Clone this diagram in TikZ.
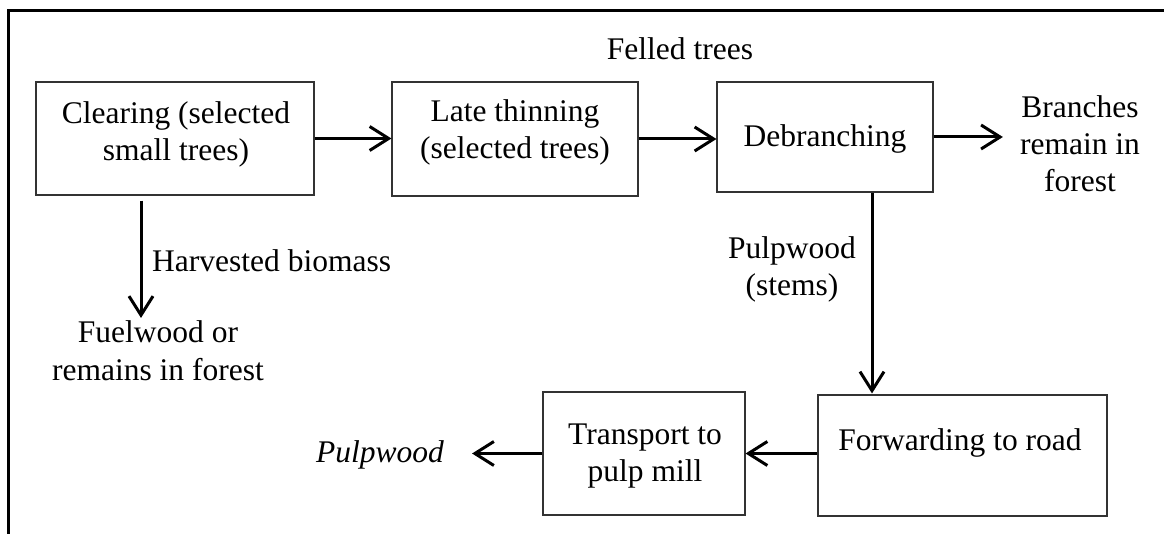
\documentclass[tikz,border=0pt]{standalone}
\usepackage{fontspec}
\setmainfont{Liberation Serif}
\usetikzlibrary{arrows.meta}
\begin{document}
\begin{tikzpicture}[x=1pt,y=-1pt,
  every node/.style={font=\fontsize{31.5}{37}\selectfont, inner sep=0pt, align=center},
  box/.style={draw=black!80, line width=1.1pt},
  txt/.style={anchor=base},
  arr/.style={line width=3pt, -{Straight Barb[length=19pt,width=24pt]}},
  framelines/.style={line width=3pt}
]
\useasboundingbox (0,0) rectangle (1164,534);
\draw[framelines] (1180,11) -- (8,11) -- (8,550);

% boxes
\node[box, minimum width=278pt, minimum height=113pt] (clear) at (175,138.5) {};
\node[box, minimum width=246pt, minimum height=114pt] (late) at (515,139) {};
\node[box, minimum width=216pt, minimum height=110pt] (debr) at (825,137) {};
\node[box, minimum width=289pt, minimum height=121pt] (fwd) at (962.5,455.5) {};
\node[box, minimum width=202pt, minimum height=123pt] (trans) at (644,453.5) {};

% box texts (anchor = baseline of last line)
\node[txt] (clearT) at (176,161) {Clearing (selected\\small trees)};
\node[txt] (lateT) at (515,159) {Late thinning\\(selected trees)};
\node[txt] (debrT) at (825,147) {Debranching};
\node[txt] (fwdT) at (960,450) {Forwarding to road};
\node[txt] (transT) at (645,481) {Transport to\\pulp mill};

% free labels
\node[txt] (felled) at (680,60) {Felled trees};
\node[txt] (branch) at (1080,192) {Branches\\remain in\\forest};
\node[anchor=base west] (harv) at (152,272) {Harvested biomass};
\node[txt] (fuel) at (158,380) {Fuelwood or\\remains in forest};
\node[txt] (pulpst) at (792,296) {Pulpwood\\(stems)};
\node[txt] (pulpit) at (380,462) {\itshape Pulpwood};

% connectors
\draw[arr] (clear.east) -- (clear.east -| late.west);
\draw[arr] (late.east) -- (late.east -| debr.west);
\draw[arr, shorten >=17pt] (debr.east) -- (debr.east -| branch.west);
\draw[arr, shorten <=5pt, shorten >=3pt] (clear.south -| 141,0) -- (fuel.north -| 141,0);
\draw[arr, shorten >=1pt] (debr.south -| 872,0) -- (fwd.north -| 872,0);
\draw[arr] (fwd.west |- trans.east) -- (trans.east);
\draw[arr, shorten >=28pt] (trans.west) -- (trans.west -| pulpit.east);
\end{tikzpicture}
\end{document}
